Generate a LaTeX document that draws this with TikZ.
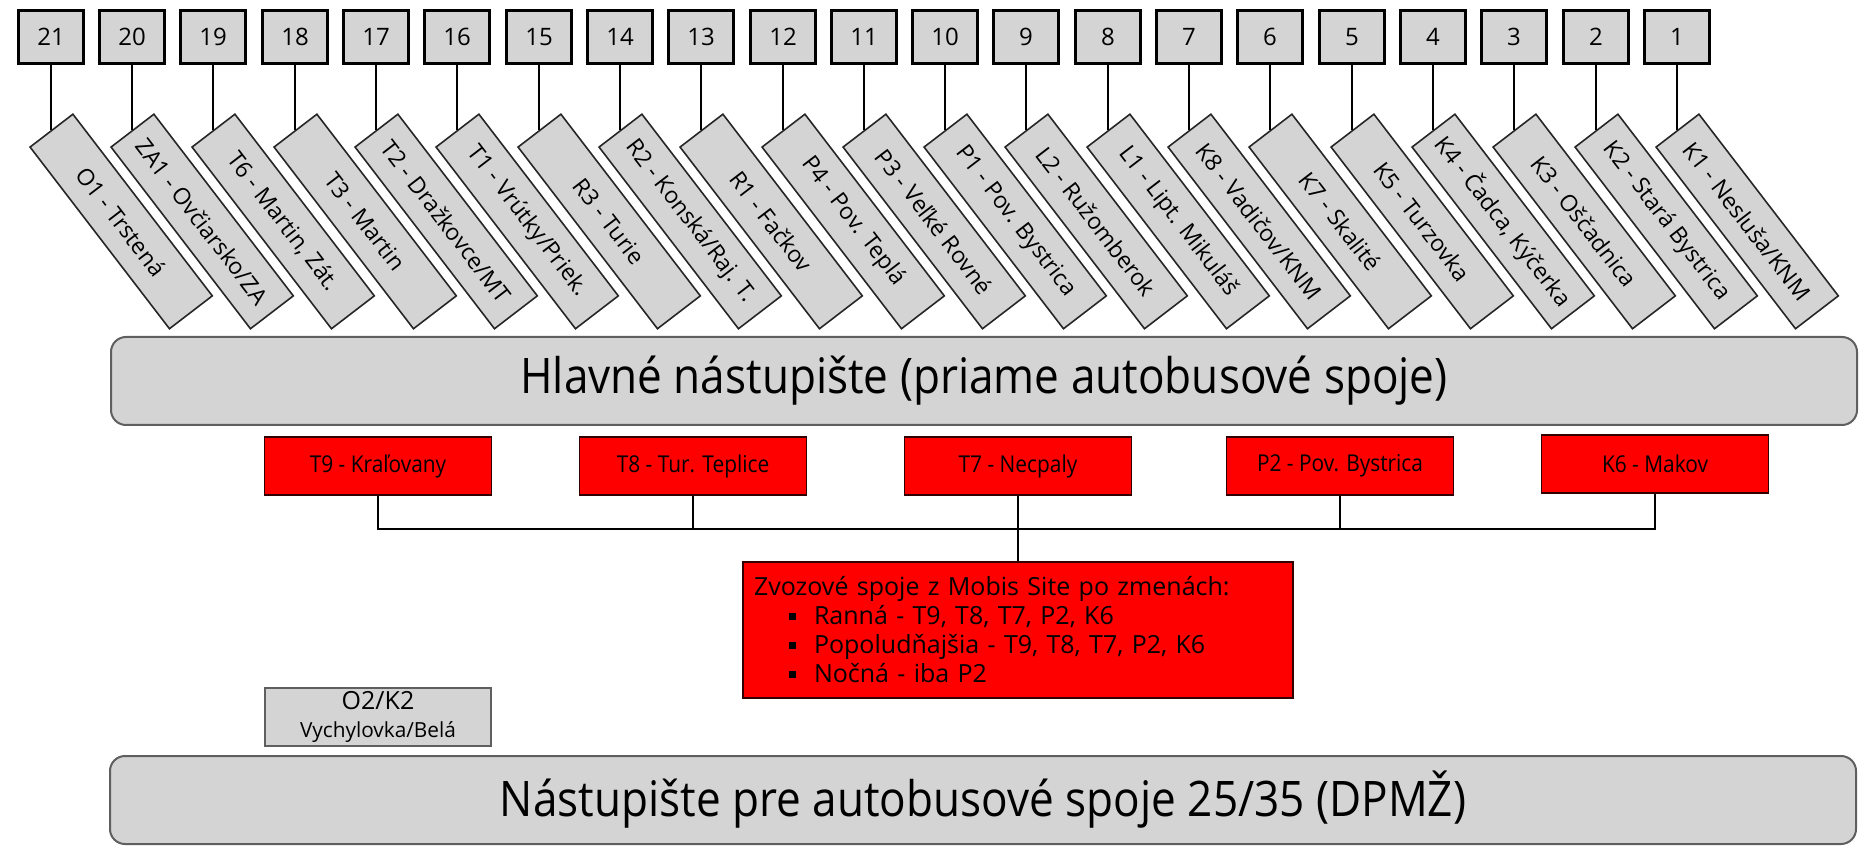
\documentclass[tikz,border=0pt]{standalone}
\usepackage{fontspec}
\setmainfont{Open Sans}
\newfontfamily\condfont[FakeStretch=0.9]{Open Sans}
\definecolor{boxgray}{RGB}{212,212,212}
\definecolor{barline}{RGB}{95,95,95}
\definecolor{busred}{RGB}{255,0,0}

\begin{document}
\begin{tikzpicture}[x=0.5pt,y=-0.5pt]
                    \useasboundingbox (0,0) rectangle (1871,860);
                    % stojiska
                    \begin{scope}[every node/.style={rectangle,draw=black,line width=1.2pt,fill=boxgray,minimum width=32.5pt,minimum height=26.5pt,inner sep=0pt,font=\fontsize{12}{14}\selectfont}]
                        \node (N21) at (51,37) {21};
                        \node (N20) at (132,37) {20};
                        \node (N19) at (213,37) {19};
                        \node (N18) at (295,37) {18};
                        \node (N17) at (376,37) {17};
                        \node (N16) at (457,37) {16};
                        \node (N15) at (539,37) {15};
                        \node (N14) at (620,37) {14};
                        \node (N13) at (701,37) {13};
                        \node (N12) at (783,37) {12};
                        \node (N11) at (864,37) {11};
                        \node (N10) at (945,37) {10};
                        \node (N9) at (1026,37) {9};
                        \node (N8) at (1108,37) {8};
                        \node (N7) at (1189,37) {7};
                        \node (N6) at (1270,37) {6};
                        \node (N5) at (1352,37) {5};
                        \node (N4) at (1433,37) {4};
                        \node (N3) at (1514,37) {3};
                        \node (N2) at (1596,37) {2};
                        \node (N1) at (1677,37) {1};
                    \end{scope}
                    % linky
                    \begin{scope}[every node/.style={rectangle,draw=black!85,line width=0.8pt,fill=boxgray,minimum width=114.5pt,minimum height=27pt,inner sep=0pt,rotate=-52.5,anchor=west,font=\fontsize{11.5}{13}\selectfont}]
                        \node (D21) at (51,130) {O1 - Trstená};
                        \node (D20) at (132,130) {ZA1 - Ovčiarsko/ZA};
                        \node (D19) at (213,130) {T6 - Martin, Zát.};
                        \node (D18) at (295,130) {T3 - Martin};
                        \node (D17) at (376,130) {T2 - Dražkovce/MT};
                        \node (D16) at (457,130) {T1 - Vrútky/Priek.};
                        \node (D15) at (539,130) {R3 - Turie};
                        \node (D14) at (620,130) {R2 - Konská/Raj. T.};
                        \node (D13) at (701,130) {R1 - Fačkov};
                        \node (D12) at (783,130) {P4 - Pov. Teplá};
                        \node (D11) at (864,130) {P3 - Veľké Rovné};
                        \node (D10) at (945,130) {P1 - Pov. Bystrica};
                        \node (D9) at (1026,130) {L2 - Ružomberok};
                        \node (D8) at (1108,130) {L1 - Lipt. Mikuláš};
                        \node (D7) at (1189,130) {K8 - Vadičov/KNM};
                        \node (D6) at (1270,130) {K7 - Skalité};
                        \node (D5) at (1352,130) {K5 - Turzovka};
                        \node (D4) at (1433,130) {K4 - Čadca, Kýčerka};
                        \node (D3) at (1514,130) {K3 - Oščadnica};
                        \node (D2) at (1596,130) {K2 - Stará Bystrica};
                        \node (D1) at (1677,130) {K1 - Nesluša/KNM};
                    \end{scope}
                    \begin{scope}[every edge/.style={draw=black,line width=1pt}]
                        \draw (N21) edge (D21.west);
                        \draw (N20) edge (D20.west);
                        \draw (N19) edge (D19.west);
                        \draw (N18) edge (D18.west);
                        \draw (N17) edge (D17.west);
                        \draw (N16) edge (D16.west);
                        \draw (N15) edge (D15.west);
                        \draw (N14) edge (D14.west);
                        \draw (N13) edge (D13.west);
                        \draw (N12) edge (D12.west);
                        \draw (N11) edge (D11.west);
                        \draw (N10) edge (D10.west);
                        \draw (N9) edge (D9.west);
                        \draw (N8) edge (D8.west);
                        \draw (N7) edge (D7.west);
                        \draw (N6) edge (D6.west);
                        \draw (N5) edge (D5.west);
                        \draw (N4) edge (D4.west);
                        \draw (N3) edge (D3.west);
                        \draw (N2) edge (D2.west);
                        \draw (N1) edge (D1.west);
                    \end{scope}
                    % nastupistia
                    \begin{scope}[every node/.style={rectangle,rounded corners=7.5pt,draw=barline,line width=1pt,fill=boxgray,minimum width=873pt,minimum height=44pt,inner sep=0pt,font=\condfont\fontsize{24.5}{28}\selectfont}]
                        \node (H) at (984,381) {Hlavné nástupište (priame autobusové spoje)};
                        \node (M) at (983,800) {Nástupište pre autobusové spoje 25/35 (DPMŽ)};
                    \end{scope}
                    % zvozove spoje
                    \begin{scope}[every node/.style={rectangle,draw=black!80!red,line width=0.8pt,fill=busred,minimum width=113.5pt,minimum height=29pt,inner sep=0pt,font=\condfont\fontsize{11.6}{14}\selectfont}]
                        \node (T9) at (378,466) {T9 - Kraľovany};
                        \node (T8) at (693,466) {T8 - Tur. Teplice};
                        \node (T7) at (1018,466) {T7 - Necpaly};
                        \node (P2) at (1340,466) {P2 - Pov. Bystrica};
                        \node (K6) at (1655,464) {K6 - Makov};
                        \node[minimum width=275pt,minimum height=68pt,text width=264pt,inner sep=5.5pt,align=left,font=\fontsize{12.5}{14.5}\selectfont] (Z) at (1018,630) {Zvozové spoje z Mobis Site po zmenách:\\
                            \hspace*{17.5pt}\rule[2.4pt]{3.5pt}{3.5pt}\hspace{9pt}Ranná - T9, T8, T7, P2, K6\\
                            \hspace*{17.5pt}\rule[2.4pt]{3.5pt}{3.5pt}\hspace{9pt}Popoludňajšia - T9, T8, T7, P2, K6\\
                            \hspace*{17.5pt}\rule[2.4pt]{3.5pt}{3.5pt}\hspace{9pt}Nočná - iba P2};
                    \end{scope}
                    \node[rectangle,draw=barline,line width=0.8pt,fill=boxgray,minimum width=113pt,minimum height=29pt,inner sep=0pt,align=center,font=\fontsize{12.5}{14}\selectfont] (O2) at (378,717) {O2/K2\\{\fontsize{10.4}{11}\selectfont Vychylovka/Belá}};
                    \coordinate (J) at (1018,529);
                    \begin{scope}[line width=1pt]
                        \draw (T9.south) |- (J) -| (K6.south);
                        \draw (T8.south) -- (T8.south |- J);
                        \draw (P2.south) -- (P2.south |- J);
                        \draw (T7.south) -- (Z.north);
                    \end{scope}
                \end{tikzpicture}
\end{document}
